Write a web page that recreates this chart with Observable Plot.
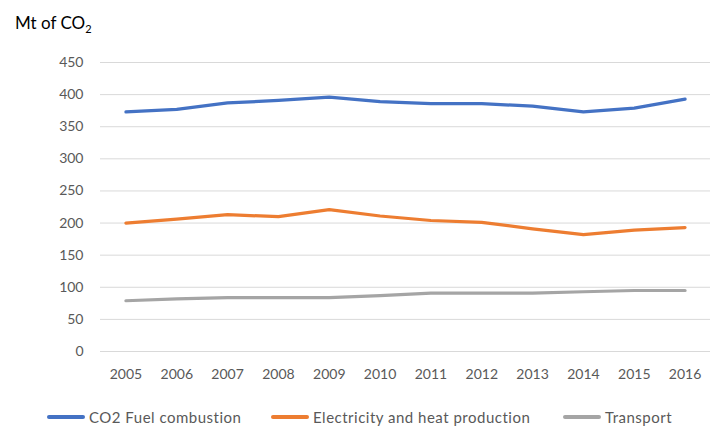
<!DOCTYPE html>
<html>
<head>
<meta charset="utf-8">
<script src="https://cdn.jsdelivr.net/npm/d3@7"></script>
<script src="https://cdn.jsdelivr.net/npm/@observablehq/plot@0.6"></script>
<style>
  html, body { margin: 0; padding: 0; background: #fff; }
  #wrap { position: relative; width: 710px; height: 429px; overflow: hidden; font-family: Lato, "Open Sans", sans-serif; }
  #title { position: absolute; left: 15px; top: 12px; font-size: 17px; color: #000; }
  #title sub { font-size: 11px; vertical-align: -4px; }
  #chart { position: absolute; left: 0; top: 0; }
  #legend { position: absolute; left: 0; top: 407px; width: 710px; height: 20px; font-size: 15px; letter-spacing: 0.5px; color: #595959; }
  .item { position: absolute; top: 0; height: 20px; display: flex; align-items: center; white-space: nowrap; }
  .sw { width: 38px; height: 3.5px; margin-right: 4px; border-radius: 2px; }
</style>
</head>
<body>
<div id="wrap">
  <div id="chart"></div>
  <div id="title">Mt of CO<sub>2</sub></div>
  <div id="legend"></div>
</div>
<script>
const years = [2005, 2006, 2007, 2008, 2009, 2010, 2011, 2012, 2013, 2014, 2015, 2016];
const fuelCombustion = [373, 377, 387, 391, 396, 389, 386, 386, 382, 373, 379, 393];
const electricityHeat = [200, 206, 213, 210, 221, 211, 204, 201, 191, 182, 189, 193];
const transport = [79, 82, 84, 84, 84, 87, 91, 91, 91, 93, 95, 95];
const seriesNames = ["CO2 Fuel combustion", "Electricity and heat production", "Transport"];
const seriesColors = ["#4472C4", "#ED7D31", "#A5A5A5"];
const yTicks = [0, 50, 100, 150, 200, 250, 300, 350, 400, 450];

const seriesValues = [fuelCombustion, electricityHeat, transport];
const data = [];
seriesNames.forEach((name, i) => {
  years.forEach((yr, j) => data.push({ series: name, year: yr, value: seriesValues[i][j] }));
});

const chart = Plot.plot({
  width: 710,
  height: 429,
  marginTop: 62,
  marginBottom: 78,
  marginLeft: 100,
  marginRight: 0,
  style: { fontFamily: "Lato, 'Open Sans', sans-serif", fontSize: "14px", color: "#595959", background: "transparent" },
  x: { domain: [2004.5, 2016.5], label: null },
  y: { domain: [0, 450], label: null },
  color: { domain: seriesNames, range: seriesColors },
  marks: [
    Plot.gridY(yTicks, { stroke: "#d9d9d9", strokeOpacity: 1, strokeWidth: 1 }),
    Plot.axisX(years, { tickFormat: d => String(d), tickSize: 0, tickPadding: 18, label: null, fill: "#595959" }),
    Plot.axisY(yTicks, { tickSize: 0, tickPadding: 17, label: null, fill: "#595959" }),
    Plot.line(data, { x: "year", y: "value", z: "series", stroke: "series", strokeWidth: 3.2, strokeLinecap: "round", strokeLinejoin: "round" })
  ]
});
document.getElementById("chart").appendChild(chart);

const legendPos = [47, 271, 563];
const legend = document.getElementById("legend");
seriesNames.forEach((name, i) => {
  const item = document.createElement("div");
  item.className = "item";
  item.style.left = legendPos[i] + "px";
  const sw = document.createElement("div");
  sw.className = "sw";
  sw.style.background = seriesColors[i];
  const tx = document.createElement("span");
  tx.textContent = name;
  item.appendChild(sw);
  item.appendChild(tx);
  legend.appendChild(item);
});
</script>
</body>
</html>
